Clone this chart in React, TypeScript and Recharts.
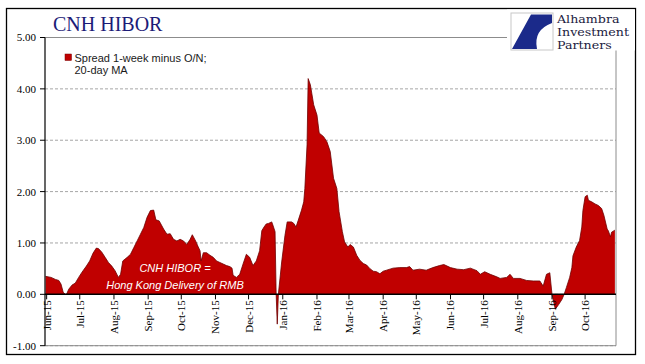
import React from 'react';
import { AreaChart, Area, XAxis, YAxis, CartesianGrid, ReferenceLine } from 'recharts';

// day index counted from 1 June 2015
const days = [
  -1, 4, 8, 11, 13, 15, 17, 18, 20, 23, 26, 29, 32, 36, 39, 42, 45, 47, 50, 53, 56, 59, 62, 65, 67, 69,
  73, 76, 79, 82, 85, 88, 91, 94, 97, 99, 102, 106, 109, 112, 115, 118, 121, 124, 127, 130, 132, 135,
  137, 139, 140, 142, 145, 148, 151, 154, 157, 160, 163, 166, 168, 169, 172, 175, 178, 181, 184, 187,
  190, 193, 195, 197, 199, 201, 204, 205, 207, 208, 209, 210, 213, 216, 218, 222, 224, 226, 228, 231,
  233, 234, 236, 237, 239, 242, 245, 247, 251, 254, 257, 260, 263, 265, 268, 270, 273, 275, 278, 281,
  284, 287, 290, 293, 296, 299, 302, 305, 308, 314, 320, 326, 329, 332, 338, 344, 350, 356, 360, 366,
  372, 378, 384, 390, 393, 397, 402, 408, 411, 417, 420, 423, 429, 435, 441, 447, 450, 453, 456, 458,
  461, 464, 467, 469, 471, 474, 476, 477, 480, 483, 485, 486, 488, 490, 491, 494, 497, 500, 503, 505,
  508, 509, 511, 512, 515,
];

const spread = [
  0.35, 0.33, 0.29, 0.27, 0.2, 0.04, 0.0, 0.0, 0.1, 0.18, 0.22, 0.33, 0.43, 0.55, 0.65, 0.8, 0.9, 0.89,
  0.82, 0.72, 0.62, 0.55, 0.46, 0.33, 0.39, 0.65, 0.72, 0.78, 0.91, 1.04, 1.17, 1.3, 1.5, 1.63, 1.64,
  1.45, 1.43, 1.27, 1.17, 1.18, 1.07, 1.04, 1.07, 1.04, 0.97, 1.07, 1.16, 1.04, 0.94, 0.85, 0.65, 0.81,
  0.81, 0.76, 0.72, 0.65, 0.62, 0.59, 0.56, 0.54, 0.51, 0.37, 0.33, 0.39, 0.59, 0.78, 0.72, 0.56, 0.65,
  0.85, 1.24, 1.31, 1.37, 1.38, 1.41, 1.35, 1.22, 0.0, -0.58, 0.0, 0.63, 1.15, 1.41, 1.41, 1.38, 1.31,
  1.44, 1.64, 1.8, 2.06, 2.91, 4.2, 4.08, 3.69, 3.49, 3.14, 3.07, 2.97, 2.78, 2.26, 2.06, 1.61, 1.22,
  1.02, 0.92, 0.97, 0.92, 0.76, 0.66, 0.6, 0.57, 0.5, 0.45, 0.44, 0.4, 0.45, 0.47, 0.51, 0.52, 0.52,
  0.54, 0.47, 0.49, 0.47, 0.52, 0.56, 0.58, 0.52, 0.49, 0.48, 0.51, 0.46, 0.39, 0.44, 0.39, 0.34, 0.31,
  0.33, 0.39, 0.31, 0.31, 0.27, 0.26, 0.26, 0.16, 0.39, 0.42, 0.0, -0.29, -0.2, -0.1, 0.0, 0.13, 0.33,
  0.52, 0.75, 0.92, 1.05, 1.31, 1.63, 1.9, 1.93, 1.83, 1.8, 1.76, 1.73, 1.67, 1.54, 1.27, 1.24, 1.12,
  1.21, 1.25,
];

const monthTickDays = [0, 30, 61, 92, 122, 153, 183, 214, 245, 274, 305, 335, 366, 396, 427, 458, 488];
const monthTickLabels = [
  'Jun-15', 'Jul-15', 'Aug-15', 'Sep-15', 'Oct-15', 'Nov-15', 'Dec-15', 'Jan-16', 'Feb-16',
  'Mar-16', 'Apr-16', 'May-16', 'Jun-16', 'Jul-16', 'Aug-16', 'Sep-16', 'Oct-16',
];
const yTicks = [-1, 0, 1, 2, 3, 4, 5];
const xDomain = [-1.5, 516];
const yDomain = [-1, 5];

const titleText = 'CNH HIBOR';
const legendLines = ['Spread 1-week minus O/N;', '20-day MA'];
const annotationLines = ['CNH HIBOR =', 'Hong Kong Delivery of RMB'];
const logoLines = ['Alhambra', 'Investment', 'Partners'];

const data = days.map((d, i) => ({ day: d, spread: spread[i] }));

const W = 645;
const H = 364;
const xAxisH = 18;
const margin = { top: 37.5, right: 29, bottom: 0.3, left: 0 };
const plotH = H - margin.top - margin.bottom - xAxisH;
const zeroOffset = (plotH * (0 - yDomain[0])) / (yDomain[1] - yDomain[0]);

const RED = '#C00000';
const SERIF = '"Liberation Serif", "Times New Roman", serif';
const SANS = '"Liberation Sans", Arial, sans-serif';

const renderXTick = (props: any) => {
  const { x, y, payload } = props;
  const y0 = y - zeroOffset;
  const idx = monthTickDays.indexOf(payload.value);
  const label = idx >= 0 ? monthTickLabels[idx] : '';
  return (
    <g key={`xt-${payload.value}`}>
      <line x1={x} y1={y0} x2={x} y2={y0 + 5} stroke="#000" strokeWidth={1} />
      <text
        x={x}
        y={y0 + 6}
        transform={`rotate(-90 ${x} ${y0 + 6})`}
        textAnchor="end"
        dominantBaseline="central"
        fontSize={11}
        fontFamily={SERIF}
        fill="#000"
      >
        {label}
      </text>
    </g>
  );
};

export default function App() {
  return (
    <div style={{ position: 'absolute', left: 0, top: 0, width: W, height: H, background: '#fff' }}>
      <AreaChart width={W} height={H} data={data} margin={margin}>
        <CartesianGrid horizontal vertical={false} stroke="#a6a6a6" strokeDasharray="3 2" />
        <XAxis
          dataKey="day"
          type="number"
          domain={xDomain}
          ticks={monthTickDays}
          interval={0}
          height={xAxisH}
          axisLine={false}
          tickLine={false}
          tickSize={0}
          tickMargin={0}
          tick={renderXTick}
          allowDataOverflow
        />
        <YAxis
          type="number"
          domain={yDomain}
          ticks={yTicks}
          interval={0}
          width={45}
          tickFormatter={(v: number) => v.toFixed(2)}
          tick={{ fontSize: 11, fontFamily: SERIF, fill: '#000' }}
          axisLine={{ stroke: '#000', strokeWidth: 1.2 }}
          tickLine={{ stroke: '#000' }}
          tickSize={5}
          tickMargin={4}
          allowDataOverflow
        />
        <ReferenceLine y={yDomain[1]} stroke="#8c8c8c" strokeWidth={1} />
        <ReferenceLine y={yDomain[0]} stroke="#8c8c8c" strokeWidth={1} />
        <ReferenceLine x={xDomain[1]} stroke="#8c8c8c" strokeWidth={1} />
        <Area
          type="linear"
          dataKey="spread"
          stroke="#6e0000"
          strokeWidth={0.8}
          fill={RED}
          fillOpacity={1}
          isAnimationActive={false}
          dot={false}
          activeDot={false}
        />
        <ReferenceLine y={0} stroke="#000" strokeWidth={1.5} />
      </AreaChart>
      <svg
        width={W}
        height={H}
        style={{ position: 'absolute', left: 0, top: 0, pointerEvents: 'none' }}
      >
        <rect x={6.5} y={8.5} width={629} height={346} fill="none" stroke="#000" strokeWidth={1.3} />
        <text x={53} y={31} fontFamily={SERIF} fontSize={20} fill="#1c1c78">
          {titleText}
        </text>
        {/* logo */}
        <rect x={507} y={9.5} width={128} height={41} fill="#fff" />
        <rect x={511} y={13} width={42} height={37} fill="#fff" stroke="#c8c8c8" strokeWidth={1} />
        <path d="M 531 14.5 L 552 14.5 L 552 23 Q 533 30 537 49 L 512 49 Z" fill="#1b2a8a" />
        <g transform="translate(557 0) scale(1.17 1)">
          {logoLines.map((t, i) => (
            <text key={t} x={0} y={23.5 + i * 12.8} fontFamily='"DejaVu Serif", serif' fontSize={10.8} fill="#1a1a40">
              {t}
            </text>
          ))}
        </g>
        {/* legend */}
        <rect x={65} y={54} width={6.5} height={6.5} fill={RED} stroke="#7a0000" strokeWidth={0.5} />
        <text x={74.5} y={61.5} fontFamily={SANS} fontSize={11} fill="#1a1a1a">
          {legendLines.map((t, i) => (
            <tspan key={t} x={74.5} dy={i === 0 ? 0 : 12}>
              {t}
            </tspan>
          ))}
        </text>
        {/* annotation */}
        <text x={175} y={272} textAnchor="middle" fontFamily={SANS} fontStyle="italic" fontSize={11} fill="#fff">
          {annotationLines.map((t, i) => (
            <tspan key={t} x={175} dy={i === 0 ? 0 : 17}>
              {t}
            </tspan>
          ))}
        </text>
      </svg>
    </div>
  );
}
